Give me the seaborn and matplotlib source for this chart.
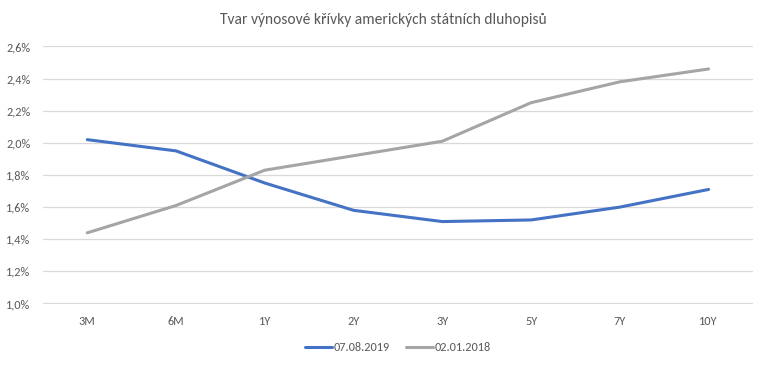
import numpy as np
import pandas as pd
import matplotlib
matplotlib.use("Agg")
import matplotlib.pyplot as plt
import seaborn as sns
from matplotlib.ticker import FuncFormatter

# data
maturities = ["3M", "6M", "1Y", "2Y", "3Y", "5Y", "7Y", "10Y"]
yields_2019 = [2.02, 1.95, 1.75, 1.58, 1.51, 1.52, 1.60, 1.71]
yields_2018 = [1.44, 1.61, 1.83, 1.92, 2.01, 2.25, 2.38, 2.46]
series_names = ["07.08.2019", "02.01.2018"]

df = pd.DataFrame({
    "maturity": maturities * 2,
    "yield": yields_2019 + yields_2018,
    "date": [series_names[0]] * len(maturities) + [series_names[1]] * len(maturities),
})

sns.set_style("white")
plt.rcParams["font.family"] = ["Carlito", "Lato", "DejaVu Sans"]

txt = "#595959"
fig = plt.figure(figsize=(7.66, 3.68), dpi=100)
ax = fig.add_axes([0.056, 0.174, 0.927, 0.701])

sns.lineplot(data=df, x="maturity", y="yield", hue="date", hue_order=series_names,
             palette=["#4472C4", "#A5A5A5"], linewidth=2.2, sort=False, ax=ax)

ax.set_xlim(-0.5, len(maturities) - 0.5)
ax.set_ylim(0.997, 2.603)
ax.set_yticks(np.arange(1.0, 2.61, 0.2))
ax.yaxis.set_major_formatter(FuncFormatter(lambda v, p: f"{v:.1f}%".replace(".", ",")))
ax.grid(axis="y", color="#D9D9D9", linewidth=0.9)
ax.set_axisbelow(True)
for s in ax.spines.values():
    s.set_visible(False)
ax.tick_params(axis="both", length=0, labelsize=8.8, colors=txt)
ax.tick_params(axis="x", pad=9)
ax.tick_params(axis="y", pad=9)
ax.set_xlabel("")
ax.set_ylabel("")

fig.suptitle("Tvar výnosové křívky amerických státních dluhopisů", y=0.965,
             fontsize=11.2, color=txt)

ax.legend(loc="upper center", bbox_to_anchor=(0.5, -0.105), ncol=2, frameon=False,
          fontsize=8.8, labelcolor=txt, handlelength=2.2, handletextpad=0.1, columnspacing=1.4)

fig.savefig("out.png", dpi=100, facecolor="white")
